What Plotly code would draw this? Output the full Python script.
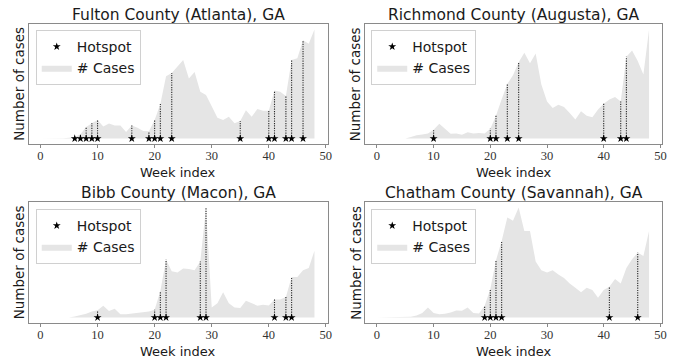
import plotly.graph_objects as go

weeks = list(range(49))

titles = ["Fulton County (Atlanta), GA", "Richmond County (Augusta), GA",
          "Bibb County (Macon), GA", "Chatham County (Savannah), GA"]

fulton_cases = [0, 0, 0, 0, 0.3, 0.8, 1.5, 4, 10.5, 14, 17, 11, 13.7, 12, 12, 6, 12, 10, 7, 6.7,
                17, 31.6, 57, 60, 66, 72, 55, 61, 43, 40, 29.5, 19, 17, 20, 14, 16, 26, 20, 27, 25.5,
                25.5, 44, 43, 39, 72, 73.5, 90, 87, 100]
richmond_cases = [0, 0, 0, 0, 0, 0, 1.5, 3, 3.7, 4.6, 8, 13.5, 9, 4.3, 4.6, 3.4, 5.8, 4.6, 5, 4.6,
                  9, 21, 36, 50, 58, 70, 78.6, 69, 78, 49.5, 34, 28, 31, 29, 23.5, 17.4, 25, 21, 19.6, 26.6,
                  31.8, 35.8, 38, 34, 75, 80.7, 71, 58.7, 100]
bibb_cases = [0, 0, 0, 0, 0, 0, 1, 2, 3.5, 5.5, 6.5, 10.7, 6, 8, 3, 3, 3.7, 4, 4.6, 5.5,
              7, 24, 52.5, 42, 41, 44.5, 44, 43, 51, 100, 9.2, 13, 23, 13, 9.2, 8.6, 15.3, 13, 10.7, 11.7,
              11, 16.3, 16.3, 18.7, 36.8, 36.8, 43, 45, 60.7]
chatham_cases = [0, 0, 0, 0, 0, 0, 0.6, 1.8, 4, 9, 4, 3, 3.3, 4.6, 6.4, 6.1, 9, 4, 3.7, 10.7,
                 26, 52, 69.5, 91, 88, 100, 78.6, 78.6, 51, 43, 41, 43, 39, 36, 31, 27, 23, 27, 25, 18,
                 25, 28, 35, 31, 45, 53, 59, 56, 78.6]

fulton_hot = [6, 7, 8, 9, 10, 16, 19, 20, 21, 23, 35, 40, 41, 43, 44, 46]
richmond_hot = [10, 20, 21, 23, 25, 40, 43, 44]
bibb_hot = [10, 20, 21, 22, 28, 29, 41, 43, 44]
chatham_hot = [19, 20, 21, 22, 41, 46]

cases_all = [fulton_cases, richmond_cases, bibb_cases, chatham_cases]
hot_all = [fulton_hot, richmond_hot, bibb_hot, chatham_hot]

W, H = 681, 358
# axes boxes in pixels (left, right, top, bottom)
boxes = [(29, 330, 24, 144), (368, 667, 24, 144), (29, 330, 202, 323), (368, 667, 202, 323)]
legpos = [(36, 30), (374, 30), (36, 209), (374, 209)]

fig = go.Figure()
layout = dict(width=W, height=H, margin=dict(l=0, r=0, t=0, b=0),
              paper_bgcolor="white", plot_bgcolor="white", annotations=[])

FILL = "rgb(229,229,229)"
SANS = "DejaVu Sans"
TXT = "#1a1a1a"

for i in range(4):
    cases = cases_all[i]
    hot = hot_all[i]
    xa = "x" if i == 0 else f"x{i+1}"
    ya = "y" if i == 0 else f"y{i+1}"
    lg = "legend" if i == 0 else f"legend{i+1}"
    # dotted lines
    lx, ly = [], []
    for w in hot:
        lx += [w, w, None]
        ly += [0, cases[w], None]
    fig.add_trace(go.Scatter(x=weeks, y=cases, mode="lines", fill="tozeroy",
                             line=dict(width=0, color=FILL), fillcolor=FILL,
                             name="# Cases", xaxis=xa, yaxis=ya, legend=lg, legendrank=2))
    fig.add_trace(go.Scatter(x=lx, y=ly, mode="lines", line=dict(color="rgb(40,40,40)", width=1.1, dash="1.2px,1.2px"),
                             showlegend=False, xaxis=xa, yaxis=ya))
    fig.add_trace(go.Scatter(x=hot, y=[0] * len(hot), mode="markers",
                             marker=dict(symbol="star", size=6, color="black", line=dict(width=0)),
                             name="Hotspot", xaxis=xa, yaxis=ya, legend=lg, legendrank=1))
    l, r, t, b = boxes[i]
    key = "" if i == 0 else str(i + 1)
    layout["xaxis" + key] = dict(domain=[l / W, r / W], range=[-2.05, 50.3], anchor=ya,
                                 tickvals=[0, 10, 20, 30, 40, 50], ticks="outside", ticklen=3,
                                 tickcolor="#888", tickwidth=1, ticklabelstandoff=-3,
                                 tickfont=dict(family="Liberation Serif", size=12.5, color="#333"),
                                 showgrid=False, zeroline=False, showline=True, linecolor="#8a8a8a",
                                 linewidth=1, mirror=True)
    layout["yaxis" + key] = dict(domain=[1 - b / H, 1 - t / H], range=[-5, 105], anchor=xa,
                                 showticklabels=False, ticks="", showgrid=False, zeroline=False,
                                 showline=True, linecolor="#8a8a8a", linewidth=1, mirror=True)
    lxp, lyp = legpos[i]
    layout[lg] = dict(x=lxp / W, y=1 - lyp / H, xanchor="left", yanchor="top",
                      bgcolor="white", bordercolor="#d0d0d0", borderwidth=1,
                      font=dict(family=SANS, size=14, color=TXT), tracegroupgap=0,
                      itemwidth=30)
    cx = (l + r) / 2
    layout["annotations"] += [
        dict(text=titles[i], x=cx / W, y=1 - (t - 9.5) / H, xref="paper", yref="paper",
             showarrow=False, font=dict(family=SANS, size=15.5, color=TXT), xanchor="center", yanchor="middle"),
        dict(text="Week index", x=cx / W, y=1 - (b + 28) / H, xref="paper", yref="paper",
             showarrow=False, font=dict(family=SANS, size=13, color=TXT), xanchor="center", yanchor="middle"),
        dict(text="Number of cases", x=(l - 10) / W, y=1 - ((t + b) / 2) / H, xref="paper", yref="paper",
             showarrow=False, textangle=-90, font=dict(family=SANS, size=13.5, color=TXT),
             xanchor="center", yanchor="middle"),
    ]

fig.update_layout(**layout)
fig.write_html("out.html")
